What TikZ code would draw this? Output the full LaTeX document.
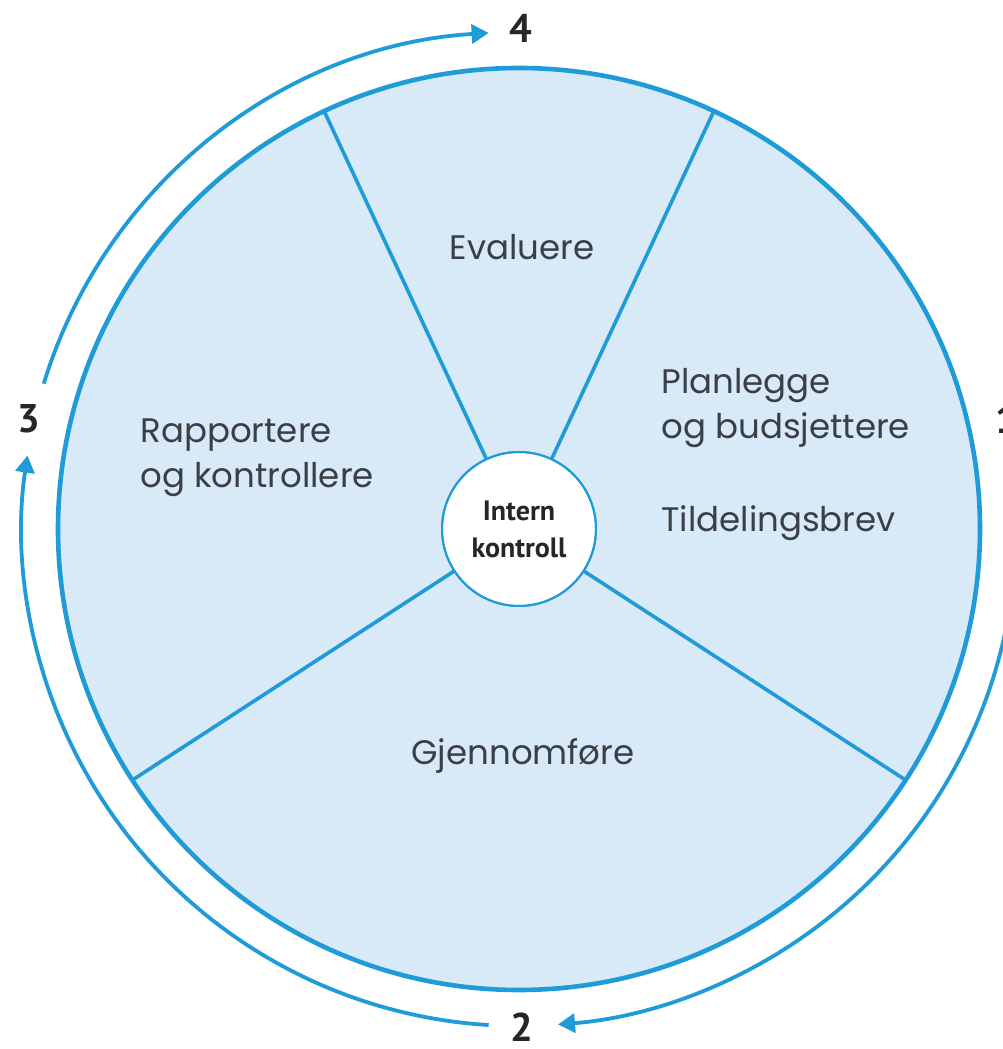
\documentclass[tikz,border=0pt]{standalone}
\usepackage{fontspec}
\setmainfont{Poppins}
\newfontfamily\kfont{PT Sans}
\usetikzlibrary{calc,arrows.meta}
\definecolor{ringblue}{HTML}{1F9BD7}
\definecolor{sectorfill}{HTML}{D8E9F8}
\definecolor{labelgray}{HTML}{3A3F45}

\tikzset{
  ring/.style={draw=ringblue, fill=sectorfill, line width=4.6pt},
  spoke/.style={draw=ringblue, line width=3.6pt},
  cyclearrow/.style={draw=ringblue, line width=3.8pt, -{Triangle[length=17pt,width=19pt]}},
  phase/.style={text=labelgray, font=\fontsize{34}{45}\selectfont, align=left},
  stepnum/.style={text=black!85, inner sep=1pt, font=\kfont\fontsize{40}{40}\selectfont\bfseries},
}

\begin{document}
\begin{tikzpicture}[x=1pt,y=1pt]
\useasboundingbox (0,0) rectangle (1003,1049);
\clip (0,0) rectangle (1003,1049);

\coordinate (c) at (519,520);

% the wheel
\draw[ring] (c) circle[radius=461pt];

% centre
\node[circle, draw=ringblue, line width=2pt, fill=white, minimum size=154pt,
      align=center, text=black!85, font=\kfont\fontsize{28}{37}\selectfont\bfseries] (ik) at (c) {Intern\\kontroll};

% spokes
\foreach \a in {115,65,-33,213}
  \draw[spoke] (ik.\a) -- ($(c)+(\a:461pt)$);
\node[circle, draw=ringblue, line width=2pt, minimum size=154pt] at (c) {};

% phases
\node[phase] (eval) at (522,802) {Evaluere};
\node[phase, anchor=west] (plan) at (658,641) {Planlegge\\og budsjettere};
\node[phase, anchor=west] (brev) at (658,526) {Tildelingsbrev};
\node[phase, anchor=west] (rapp) at (137,591) {Rapportere\\og kontrollere};
\node[phase] (gjen) at (523,293) {Gjennomføre};

% cycle arrows
\coordinate (a1) at ($(c)+(7:497pt)$);
\coordinate (a2) at ($(c)+(266.5:497pt)$);
\coordinate (a3) at ($(c)+(163:497pt)$);
\draw[cyclearrow] (a1) arc[start angle=7, end angle=-85.5, radius=497pt];
\draw[cyclearrow] (a2) arc[start angle=266.5, end angle=171.5, radius=497pt];
\draw[cyclearrow] (a3) arc[start angle=163, end angle=93.5, radius=497pt];

% step numbers
\node[stepnum] (n1) at (1007,630) {1};
\node[stepnum] (n2) at (522,22) {2};
\node[stepnum] (n3) at (29,630) {3};
\node[stepnum] (n4) at (521,1021) {4};
\end{tikzpicture}
\end{document}
